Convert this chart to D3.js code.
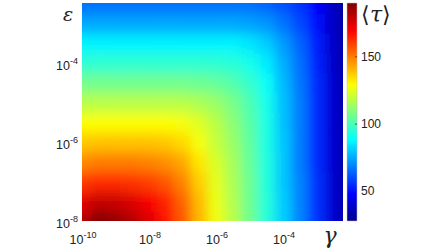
<!DOCTYPE html>
<html>
<head>
<meta charset="utf-8">
<script src="https://cdn.jsdelivr.net/npm/d3@7"></script>
<style>
  body { margin: 0; background: #fff; }
  svg { display: block; font-family: Arial, "Liberation Sans", sans-serif; }
</style>
</head>
<body>
<div class="canvas"></div>
<script>
// grid exponents (log10)
const gammaExp = [-10, -9.5, -9, -8.5, -8, -7.5, -7, -6.5, -6, -5.5, -5, -4.5, -4, -3.5, -3, -2.5, -2];
const epsExp = [-8, -7.5, -7, -6.5, -6, -5.5, -5, -4.5, -4, -3.5, -3, -2.5];

// <tau> values, one row per epsilon (bottom to top), one column per gamma
const tauRows = [
  [182, 190, 187, 182, 175, 166, 156, 141, 127, 118, 107, 95, 81, 69, 56, 40, 28],
  [174, 179, 178, 175, 171, 164, 154, 140, 126, 117, 106, 95, 81, 69, 56, 40, 28],
  [161, 163, 163, 162, 160, 156, 149, 137, 125, 116, 106, 94, 80, 69, 56, 40, 28],
  [148, 150, 150, 150, 149, 147, 143, 133, 123, 115, 105, 94, 80, 68, 55, 40, 28],
  [138, 139, 139, 139, 139, 138, 135, 128, 120, 113, 104, 93, 80, 68, 55, 40, 28],
  [129, 129, 129, 129, 129, 129, 128, 124, 118, 111, 103, 93, 79, 68, 55, 40, 28],
  [118, 118, 118, 118, 118, 118, 118, 116, 113, 108, 101, 92, 79, 68, 55, 40, 28],
  [107, 107, 107, 107, 107, 107, 107, 106, 105, 102, 97, 90, 78, 67, 55, 40, 28],
  [96, 96, 96, 96, 96, 96, 96, 96, 96, 95, 92, 86, 76, 66, 54, 39, 28],
  [87, 87, 87, 87, 87, 87, 87, 87, 87, 87, 85, 81, 73, 64, 53, 39, 28],
  [75, 75, 75, 75, 75, 75, 75, 75, 75, 75, 74, 72, 67, 60, 51, 38, 28],
  [66, 66, 66, 66, 66, 66, 66, 66, 66, 66, 66, 64, 61, 56, 48, 37, 28]
];

const xTickExp = [-10, -8, -6, -4];
const yTickExp = [-8, -6, -4];
const cbTicks = [50, 100, 150];
const tauMin = 28, tauMax = 190;

const W = 448, H = 252;
const pLeft = 82, pRight = 343, pTop = 3, pBottom = 221;

const svg = d3.select('.canvas')
  .append('svg')
  .attr('width', W)
  .attr('height', H);

const x = d3.scaleLog().domain([1e-10, Math.pow(10, -2.21)]).range([pLeft, pRight]);
const y = d3.scaleLog().domain([1e-8, Math.pow(10, -2.48)]).range([pBottom, pTop]);

const jet = d3.scaleLinear()
  .domain([0, 0.125, 0.375, 0.625, 0.875, 1])
  .range(["#00008f", "#0000ff", "#00ffff", "#ffff00", "#ff0000", "#800000"])
  .clamp(true);
const color = v => jet((v - tauMin) / (tauMax - tauMin));

const defs = svg.append("defs");
defs.append("clipPath").attr("id", "plotclip")
  .append("rect")
  .attr("x", pLeft).attr("y", pTop)
  .attr("width", pRight - pLeft).attr("height", pBottom - pTop);

defs.append("filter").attr("id", "smooth")
    .attr("x", "-20%").attr("y", "-20%").attr("width", "140%").attr("height", "140%")
  .append("feGaussianBlur")
    .attr("stdDeviation", "5.5 6.5");

// cells
const cells = [];
epsExp.forEach((ey, j) => {
  gammaExp.forEach((ex, i) => {
    const x0 = i === 0 ? x(Math.pow(10, ex)) - 30 : x(Math.pow(10, ex - 0.25));
    const x1 = i === gammaExp.length - 1 ? x(Math.pow(10, ex)) + 30 : x(Math.pow(10, ex + 0.25));
    const y0 = j === epsExp.length - 1 ? y(Math.pow(10, ey)) - 30 : y(Math.pow(10, ey + 0.25));
    const y1 = j === 0 ? y(Math.pow(10, ey)) + 30 : y(Math.pow(10, ey - 0.25));
    cells.push({ x0, x1, y0, y1, v: tauRows[j][i] });
  });
});

const plot = svg.append("g").attr("clip-path", "url(#plotclip)");

// unblurred copy underneath so edges stay solid
[false, true].forEach(blurred => {
  const g = plot.append("g");
  if (blurred) g.attr("filter", "url(#smooth)");
  g.selectAll("rect")
    .data(cells)
    .join("rect")
      .attr("x", d => d.x0)
      .attr("y", d => d.y0)
      .attr("width", d => d.x1 - d.x0 + 0.5)
      .attr("height", d => d.y1 - d.y0 + 0.5)
      .attr("fill", d => color(d.v));
});

// tick labels with superscripts
function powLabel(sel, e) {
  sel.append("tspan").text("10");
  sel.append("tspan").attr("dy", -6).style("font-size", "9px").text(e);
}

svg.append("g").selectAll("text")
  .data(xTickExp)
  .join("text")
    .attr("x", d => x(Math.pow(10, d)) + 1)
    .attr("y", pBottom + 23)
    .attr("text-anchor", "middle")
    .style("font-size", "12.5px")
    .attr("fill", "#222")
    .each(function(d) { powLabel(d3.select(this), d); });

svg.append("g").selectAll("text")
  .data(yTickExp)
  .join("text")
    .attr("x", pLeft - 4)
    .attr("y", d => y(Math.pow(10, d)) + 6.5)
    .attr("text-anchor", "end")
    .style("font-size", "12.5px")
    .attr("fill", "#222")
    .each(function(d) { powLabel(d3.select(this), d); });

// axis symbols
svg.append("text")
  .attr("x", 68).attr("y", 21)
  .attr("text-anchor", "middle")
  .style("font-family", "'DejaVu Serif', serif")
  .style("font-style", "italic")
  .style("font-size", "19px")
  .attr("fill", "#222")
  .text("ε");

svg.append("text")
  .attr("x", 330).attr("y", 243)
  .attr("text-anchor", "middle")
  .style("font-family", "'DejaVu Serif', serif")
  .style("font-style", "italic")
  .style("font-size", "22px")
  .attr("fill", "#222")
  .text("γ");

// colorbar
const cbX = 347, cbW = 10;
const cy = d3.scaleLinear().domain([tauMin, tauMax]).range([pBottom, pTop]);

const grad = defs.append("linearGradient").attr("id", "jetgrad")
  .attr("x1", 0).attr("y1", 1).attr("x2", 0).attr("y2", 0);
grad.selectAll("stop")
  .data(d3.range(0, 1.0001, 0.025))
  .join("stop")
    .attr("offset", d => d)
    .attr("stop-color", d => jet(d));

svg.append("rect")
  .attr("x", cbX).attr("y", pTop)
  .attr("width", cbW).attr("height", pBottom - pTop)
  .attr("fill", "url(#jetgrad)")
  .attr("stroke", "#bbb")
  .attr("stroke-width", 0.5);

svg.append("g").selectAll("line")
  .data(cbTicks)
  .join("line")
    .attr("x1", cbX + cbW - 2).attr("x2", cbX + cbW)
    .attr("y1", d => cy(d)).attr("y2", d => cy(d))
    .attr("stroke", "#333")
    .attr("stroke-width", 0.8);

svg.append("g").selectAll("text")
  .data(cbTicks)
  .join("text")
    .attr("x", cbX + cbW + 4)
    .attr("y", d => cy(d) + 4)
    .style("font-size", "12px")
    .attr("fill", "#222")
    .text(d => d);

const tauLabel = svg.append("text")
  .attr("x", 361).attr("y", 22)
  .style("font-family", "'DejaVu Serif', serif")
  .style("font-size", "22px")
  .attr("fill", "#222");
tauLabel.append("tspan").style("font-family", "'DejaVu Sans', sans-serif").style("font-weight", "300").text("⟨");
tauLabel.append("tspan").style("font-style", "italic").text("τ");
tauLabel.append("tspan").style("font-family", "'DejaVu Sans', sans-serif").style("font-weight", "300").text("⟩");
</script>
</body>
</html>
